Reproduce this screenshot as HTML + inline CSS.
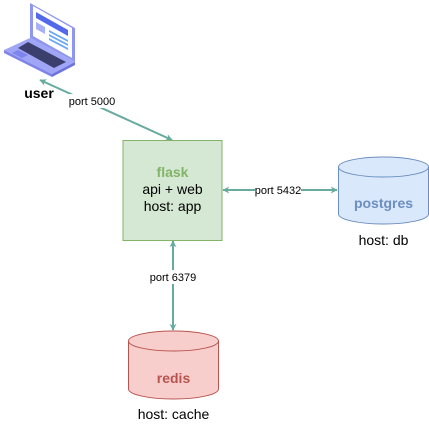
<!DOCTYPE html>
<html><head><style>
html,body{margin:0;padding:0;background:#fff;width:429px;height:431px;overflow:hidden}
svg{display:block}
text{font-family:"Liberation Sans",sans-serif}
</style></head><body>
<svg width="429" height="431" viewBox="0 0 429 431" xmlns="http://www.w3.org/2000/svg">
<defs>
<marker id="a" viewBox="0 0 10 10" refX="9" refY="5" markerWidth="7" markerHeight="7" orient="auto-start-reverse" markerUnits="userSpaceOnUse">
<path d="M0,0 L10,5 L0,10 L3,5 z" fill="#67AB9F"/>
</marker>
</defs>
<g>
<path d="M30,3 L75,28 L75,62 L30,38 z" fill="#8f96f0"/>
<path d="M33,6 L72,28 L72,58 L33,36 z" fill="#fff"/>
<path d="M36,12 L68,30 L68,36 L36,18 z" fill="#5468ea"/>
<path d="M36,22 L45,27 L45,34 L36,29 z" fill="#a9b0f5"/>
<path d="M49,30 L68,40 L68,42 L49,32 z M49,34 L68,44 L68,46 L49,36 z M49,38 L68,48 L68,50 L49,40 z" fill="#6aa8f5"/>
<path d="M30,38 L75,62 L52,74 L4,50 z" fill="#a0a6f5"/>
<path d="M4,50 L52,74 L52,77 L4,53 z" fill="#7f85e8"/>
<path d="M52,74 L75,62 L75,65 L52,77 z" fill="#6c72de"/>
<path d="M28,42 L66,62 L54,68 L18,48 z" fill="#3a3f6e"/>
<path d="M18,50 L28,55 L22,58 L12,53 z" fill="#7d84ec"/>
</g>
<text x="39" y="98" font-size="14" font-weight="bold" text-anchor="middle" fill="#000">user</text>
<line x1="40" y1="80" x2="172" y2="140" stroke="#67AB9F" stroke-width="2" marker-start="url(#a)" marker-end="url(#a)"/>
<rect x="68" y="94" width="48" height="14" fill="#fff"/>
<text x="92" y="105" font-size="11" text-anchor="middle">port 5000</text>
<rect x="123" y="140.5" width="99" height="100" fill="#d5e8d4" stroke="#82b366"/>
<text x="172.5" y="177" font-size="14" font-weight="bold" fill="#82b366" text-anchor="middle">flask</text>
<text x="172.5" y="194" font-size="14" text-anchor="middle">api + web</text>
<text x="172.5" y="211" font-size="14" text-anchor="middle">host: app</text>
<line x1="223" y1="190" x2="337" y2="190" stroke="#67AB9F" stroke-width="2" marker-start="url(#a)" marker-end="url(#a)"/>
<rect x="255" y="183" width="46" height="14" fill="#fff"/>
<text x="278" y="194" font-size="11" text-anchor="middle">port 5432</text>
<path d="M338.5,167 L338.5,214 A45,10 0 0 0 428.5,214 L428.5,167" fill="#dae8fc" stroke="#6c8ebf"/>
<ellipse cx="383.5" cy="167" rx="45" ry="10" fill="#dae8fc" stroke="#6c8ebf"/>
<text x="383.5" y="208" font-size="14" font-weight="bold" fill="#6c8ebf" text-anchor="middle">postgres</text>
<text x="383.5" y="245" font-size="14" text-anchor="middle">host: db</text>
<line x1="173" y1="241" x2="173" y2="330" stroke="#67AB9F" stroke-width="2" marker-start="url(#a)" marker-end="url(#a)"/>
<rect x="150" y="270" width="46" height="14" fill="#fff"/>
<text x="173" y="281" font-size="11" text-anchor="middle">port 6379</text>
<path d="M128.5,341 L128.5,389 A45,10 0 0 0 218.5,389 L218.5,341" fill="#f8cecc" stroke="#b85450"/>
<ellipse cx="173.5" cy="341" rx="45" ry="10" fill="#f8cecc" stroke="#b85450"/>
<text x="173.5" y="383" font-size="14" font-weight="bold" fill="#b85450" text-anchor="middle">redis</text>
<text x="173.5" y="419" font-size="14" text-anchor="middle">host: cache</text>
</svg>
</body></html>
